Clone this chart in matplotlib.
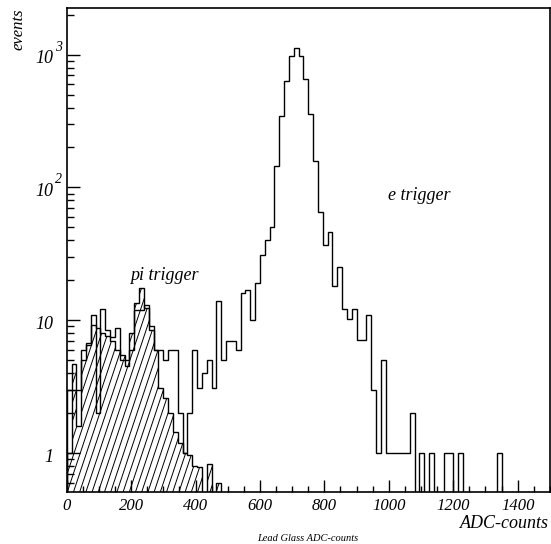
import numpy as np
import matplotlib
matplotlib.use("Agg")
import matplotlib.pyplot as plt
from matplotlib.collections import LineCollection
from matplotlib.transforms import blended_transform_factory

# bin width 15 ADC-counts, 0..1500
bin_width = 15

e_counts = [
    3.0, 3.0, 3.0, 6.0, 6.7, 10.9, 2.0, 12.1, 8.4, 7.5,
    8.8, 5.0, 4.5, 6.0, 12.0, 12.0, 13.0, 9.0, 6.0, 6.0,
    5.0, 6.0, 6.0, 2.0, 1.0, 2.0, 6.0, 3.1, 4.0, 5.0,
    3.1, 13.9, 5.0, 7.0, 7.0, 6.0, 16, 17, 10, 19,
    31, 40, 50, 144, 348, 628, 982, 1117, 982, 650,
    360, 157, 65, 37, 46, 18, 25, 12.1, 10.2, 12.1,
    7.1, 7.1, 10.9, 3.0, 1.0, 5.0, 1, 1, 1, 1,
    1, 2, 0, 1, 0, 1, 0, 0, 1, 1,
    0, 1, 0, 0, 0, 0, 0, 0, 0, 1,
    0, 0, 0, 0, 0, 0, 0, 0, 0, 0,
]

pi_counts = [
    1.0, 4.7, 1.6, 5.0, 6.5, 9.2, 8.8, 8.0, 7.6, 7.0,
    6.0, 5.5, 5.0, 8.0, 13.6, 17.4, 12.3, 8.5, 6.0, 3.1,
    2.6, 2.0, 1.45, 1.2, 1.0, 0.97, 0.8, 0.78, 0, 0.83,
    0, 0.6,
]

y_major = [1, 10, 100, 1000]
y_base = ["1", "10", "10", "10"]
y_exp = ["", "", "2", "3"]
x_ticks = [0, 200, 400, 600, 800, 1000, 1200, 1400]

serif = "Liberation Serif"

e_edges = np.arange(len(e_counts) + 1) * bin_width
pi_edges = np.arange(len(pi_counts) + 1) * bin_width
floor = 1e-2  # empty bins drop below the visible range
e_vals = np.clip(np.array(e_counts, dtype=float), floor, None)
pi_vals = np.clip(np.array(pi_counts, dtype=float), floor, None)

fig = plt.figure(figsize=(5.51, 5.44), dpi=100)
ax = fig.add_axes([0.121, 0.0956, 0.877, 0.889])
ax.set_yscale("log")
ax.set_xlim(0, 1500)
ax.set_ylim(0.51, 2230)

# pi trigger: hatched area (steep hatch, clipped to the histogram shape)
fill_patch = ax.stairs(pi_vals, pi_edges, baseline=floor, fill=True,
                       facecolor="none", edgecolor="none")
W, H = 483.0, 484.0
spacing = 6.2 / W
dx = H / (3.0 * W)
segs = []
for x0 in np.arange(-1.0, 1.2, spacing):
    segs.append([(x0, 0.0), (x0 + dx, 1.0)])
hatch = LineCollection(segs, colors="black", linewidths=0.7,
                       transform=ax.transAxes)
ax.add_collection(hatch)
hatch.set_clip_path(fill_patch)
ax.stairs(pi_vals, pi_edges, baseline=floor, color="black", linewidth=1.0)

# e trigger: open histogram
ax.stairs(e_vals, e_edges, baseline=floor, color="black", linewidth=1.0)

ax.text(197, 20, "pi trigger", fontfamily=serif, fontstyle="italic",
        fontsize=13, va="baseline")
ax.text(997, 80, "e trigger", fontfamily=serif, fontstyle="italic",
        fontsize=13, va="baseline")

# axes styling
for s in ax.spines.values():
    s.set_linewidth(1.2)
ax.set_xticks(x_ticks)
ax.set_xticks(np.arange(0, 1501, 50), minor=True)
ax.set_xticklabels([str(t) for t in x_ticks], fontfamily=serif,
                   fontstyle="italic", fontsize=12)
ax.tick_params(axis="x", which="major", direction="in", length=9, width=1, pad=4)
ax.tick_params(axis="x", which="minor", direction="in", length=4.5, width=1)
ax.tick_params(axis="y", which="major", direction="in", length=9, width=1)
ax.tick_params(axis="y", which="minor", direction="in", length=5, width=1)
ax.set_yticks(y_major)
ax.set_yticklabels([])
ax.yaxis.set_minor_locator(matplotlib.ticker.LogLocator(base=10, subs=np.arange(2, 10)))
ax.yaxis.set_minor_formatter(matplotlib.ticker.NullFormatter())

trans = blended_transform_factory(ax.transAxes, ax.transData)
for v, b, e in zip(y_major, y_base, y_exp):
    ax.text(-0.028, v * 0.93, b, transform=trans, ha="right", va="center",
            fontfamily=serif, fontstyle="italic", fontsize=13)
    if e:
        ax.text(-0.016, v * 1.14, e, transform=trans, ha="center", va="center",
                fontfamily=serif, fontstyle="italic", fontsize=10)

fig.text(0.996, 0.0285, "ADC-counts", ha="right", va="baseline",
         fontfamily=serif, fontstyle="italic", fontsize=13)
fig.text(0.559, 0.0060, "Lead Glass ADC-counts", ha="center", va="baseline",
         fontfamily=serif, fontstyle="italic", fontsize=7.5)
fig.text(0.033, 0.984, "events", ha="center", va="top", rotation=90,
         fontfamily=serif, fontstyle="italic", fontsize=12)

fig.savefig("out.png", dpi=100)
